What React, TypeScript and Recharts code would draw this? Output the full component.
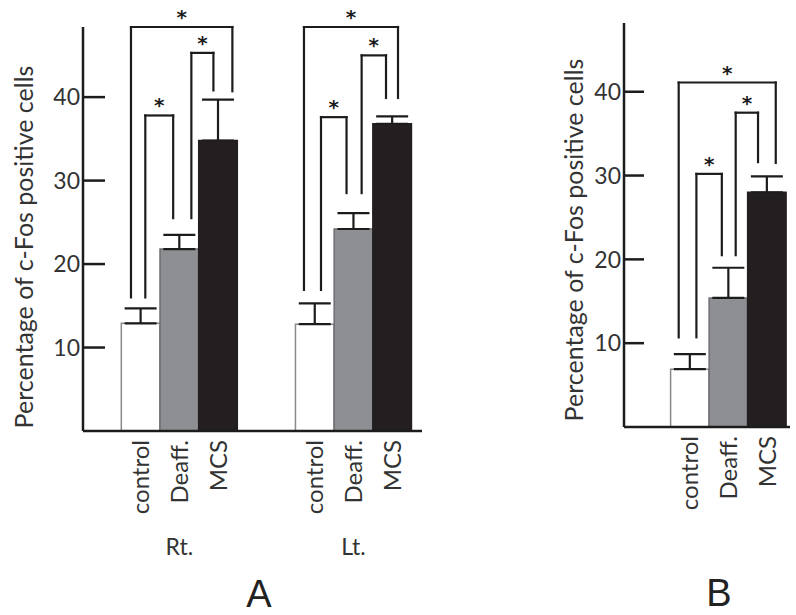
import React from 'react';
import { BarChart, Bar, Cell, XAxis, YAxis, ErrorBar, ReferenceLine } from 'recharts';

const FONT = 'Lato, "Open Sans", sans-serif';
const INK = '#1c1c1c';
const TEXT = '#333333';

const CONDITIONS = ['control', 'Deaff.', 'MCS'];
const SIDES = ['Rt.', 'Lt.'];
const RT_MEAN = [12.9, 21.8, 34.8];
const RT_SEM = [1.8, 1.7, 4.9];
const LT_MEAN = [12.8, 24.2, 36.8];
const LT_SEM = [2.5, 1.9, 0.9];
const B_MEAN = [6.9, 15.4, 28.0];
const B_SEM = [1.8, 3.6, 1.9];
const Y_TICKS = [10, 20, 30, 40];

// slot of the first bar of each group on the numeric x axis
const GROUP_START = [1, 5.5];

// significance brackets: bars joined, leg offsets (bar widths), heights (% units)
const A_BRACKETS = [
  { side: 0, from: 0, to: 1, dl: 0.12, dr: -0.16, top: 37.8, lb: 16.0, rb: 25.5 },
  { side: 0, from: 1, to: 2, dl: 0.31, dr: -0.12, top: 45.3, lb: 25.5, rb: 40.8 },
  { side: 0, from: 0, to: 2, dl: -0.25, dr: 0.37, top: 48.4, lb: 16.0, rb: 40.7 },
  { side: 1, from: 0, to: 1, dl: 0.16, dr: -0.18, top: 37.6, lb: 16.9, rb: 28.5 },
  { side: 1, from: 1, to: 2, dl: 0.21, dr: -0.16, top: 45.0, lb: 28.5, rb: 39.9 },
  { side: 1, from: 0, to: 2, dl: -0.28, dr: 0.15, top: 48.4, lb: 16.9, rb: 39.9 },
];
const B_BRACKETS = [
  { side: 0, from: 0, to: 1, dl: 0.17, dr: -0.17, top: 30.2, lb: 10.7, rb: 20.5 },
  { side: 0, from: 1, to: 2, dl: 0.19, dr: -0.23, top: 37.5, lb: 20.5, rb: 31.6 },
  { side: 0, from: 0, to: 2, dl: -0.29, dr: 0.23, top: 41.1, lb: 10.7, rb: 31.5 },
];

const FILLS = ['#ffffff', '#8e8f93', '#231f20'];
const STROKES = ['#8a8a8a', '#6d6e71', '#231f20'];

const rowsA = SIDES.flatMap((side, s) =>
  CONDITIONS.map((cond, i) => ({
    pos: GROUP_START[s] + i,
    side,
    cond,
    ci: i,
    mean: (s === 0 ? RT_MEAN : LT_MEAN)[i],
    err: [0, (s === 0 ? RT_SEM : LT_SEM)[i]],
  }))
);

const rowsB = CONDITIONS.map((cond, i) => ({
  pos: 1 + i,
  side: '',
  cond,
  ci: i,
  mean: B_MEAN[i],
  err: [0, B_SEM[i]],
}));

function YTick(props: any) {
  const { x, y, payload, len } = props;
  return (
    <g>
      <line x1={x} y1={y} x2={x + len} y2={y} stroke={INK} strokeWidth={2.5} />
      <text x={x - 3} y={y} dy="0.36em" textAnchor="end" fontSize={23} fill={TEXT} fontFamily={FONT}>
        {payload.value}
      </text>
    </g>
  );
}

// condition name rotated under each bar; the side name under the middle bar of a group
function CondTick(props: any) {
  const { x, y, payload, rows } = props;
  const row = rows.find((r: any) => r.pos === payload.value);
  if (!row) return null;
  const ty = y + 9;
  return (
    <g>
      <text
        x={x}
        y={ty}
        dy="0.36em"
        transform={`rotate(-90 ${x} ${ty})`}
        textAnchor="end"
        fontSize={24}
        fill={TEXT}
        fontFamily={FONT}
      >
        {row.cond}
      </text>
      {row.ci === 1 && row.side ? (
        <text x={x} y={y + 124} textAnchor="middle" fontSize={23} fill={TEXT} fontFamily={FONT}>
          {row.side}
        </text>
      ) : null}
    </g>
  );
}

function YTitle(props: any) {
  const { viewBox, dx, dy } = props;
  const cx = viewBox.x + dx;
  const cy = viewBox.y + viewBox.height / 2 + dy;
  return (
    <text
      x={cx}
      y={cy}
      transform={`rotate(-90 ${cx} ${cy})`}
      textAnchor="middle"
      dominantBaseline="central"
      fontSize={25}
      fill={TEXT}
      fontFamily={FONT}
    >
      Percentage of c-Fos positive cells
    </text>
  );
}

function bracketLines(list: any[], starts: number[], prefix: string) {
  const line = { stroke: INK, strokeWidth: 2.2, strokeLinecap: 'square' as const, ifOverflow: 'visible' as const };
  return list.flatMap((b, k) => {
    const x1 = starts[b.side] + b.from + b.dl;
    const x2 = starts[b.side] + b.to + b.dr;
    return [
      <ReferenceLine key={`${prefix}${k}l`} segment={[{ x: x1, y: b.lb }, { x: x1, y: b.top }]} {...line} />,
      <ReferenceLine
        key={`${prefix}${k}t`}
        segment={[{ x: x1, y: b.top }, { x: x2, y: b.top }]}
        {...line}
        label={{ value: '*', position: 'top', offset: 3, fill: INK, fontSize: 20, fontWeight: 'bold', fontFamily: 'DejaVu Sans' }}
      />,
      <ReferenceLine key={`${prefix}${k}r`} segment={[{ x: x2, y: b.top }, { x: x2, y: b.rb }]} {...line} />,
    ];
  });
}

function PanelLetter({ x, y, children }: { x: number; y: number; children: string }) {
  return (
    <div
      style={{
        position: 'absolute',
        left: x,
        top: y - 15,
        height: 30,
        transform: 'translateX(-50%)',
        fontSize: 38,
        lineHeight: '30px',
        fontFamily: '"Liberation Sans", Arial, sans-serif',
        color: '#222',
      }}
    >
      {children}
    </div>
  );
}

export default function App() {
  return (
    <div style={{ position: 'absolute', left: 0, top: 0, width: 796, height: 615, background: '#fff', overflow: 'hidden' }}>
      <div style={{ position: 'absolute', left: 0, top: 0 }}>
        <BarChart width={440} height={615} data={rowsA} margin={{ top: 27, right: 18, left: 0, bottom: 94 }}>
          <XAxis
            dataKey="pos"
            type="number"
            domain={[-0.49, 8.27]}
            allowDataOverflow
            ticks={rowsA.map((r) => r.pos)}
            interval={0}
            height={90}
            tickSize={0}
            tickMargin={0}
            tickLine={false}
            axisLine={{ stroke: INK, strokeWidth: 2.5 }}
            tick={<CondTick rows={rowsA} />}
          />
          <YAxis
            type="number"
            domain={[0, 48.4]}
            allowDataOverflow
            ticks={Y_TICKS}
            interval={0}
            width={83}
            tickSize={0}
            tickMargin={0}
            tickLine={false}
            axisLine={{ stroke: INK, strokeWidth: 2.5 }}
            tick={<YTick len={22} />}
            label={<YTitle dx={23} dy={18} />}
          />
          <Bar dataKey="mean" barSize={38.6} isAnimationActive={false}>
            {rowsA.map((r) => (
              <Cell key={`${r.side}${r.cond}`} fill={FILLS[r.ci]} stroke={STROKES[r.ci]} strokeWidth={1.5} />
            ))}
            <ErrorBar dataKey="err" width={16} stroke={INK} strokeWidth={2.2} direction="y" isAnimationActive={false} />
          </Bar>
          {bracketLines(A_BRACKETS, GROUP_START, 'a')}
        </BarChart>
      </div>
      <div style={{ position: 'absolute', left: 450, top: 0 }}>
        <BarChart width={346} height={615} data={rowsB} margin={{ top: 23, right: 6, left: 0, bottom: 98 }}>
          <XAxis
            dataKey="pos"
            type="number"
            domain={[-0.71, 3.6]}
            allowDataOverflow
            ticks={rowsB.map((r) => r.pos)}
            interval={0}
            height={90}
            tickSize={0}
            tickMargin={0}
            tickLine={false}
            axisLine={{ stroke: INK, strokeWidth: 2.5 }}
            tick={<CondTick rows={rowsB} />}
          />
          <YAxis
            type="number"
            domain={[0, 48.2]}
            allowDataOverflow
            ticks={Y_TICKS}
            interval={0}
            width={174}
            tickSize={0}
            tickMargin={0}
            tickLine={false}
            axisLine={{ stroke: INK, strokeWidth: 2.5 }}
            tick={<YTick len={20} />}
            label={<YTitle dx={123} dy={15} />}
          />
          <Bar dataKey="mean" barSize={38.45} isAnimationActive={false}>
            {rowsB.map((r) => (
              <Cell key={r.cond} fill={FILLS[r.ci]} stroke={STROKES[r.ci]} strokeWidth={1.5} />
            ))}
            <ErrorBar dataKey="err" width={16} stroke={INK} strokeWidth={2.2} direction="y" isAnimationActive={false} />
          </Bar>
          {bracketLines(B_BRACKETS, [1], 'b')}
        </BarChart>
      </div>
      <PanelLetter x={259} y={594}>A</PanelLetter>
      <PanelLetter x={719} y={593}>B</PanelLetter>
    </div>
  );
}
